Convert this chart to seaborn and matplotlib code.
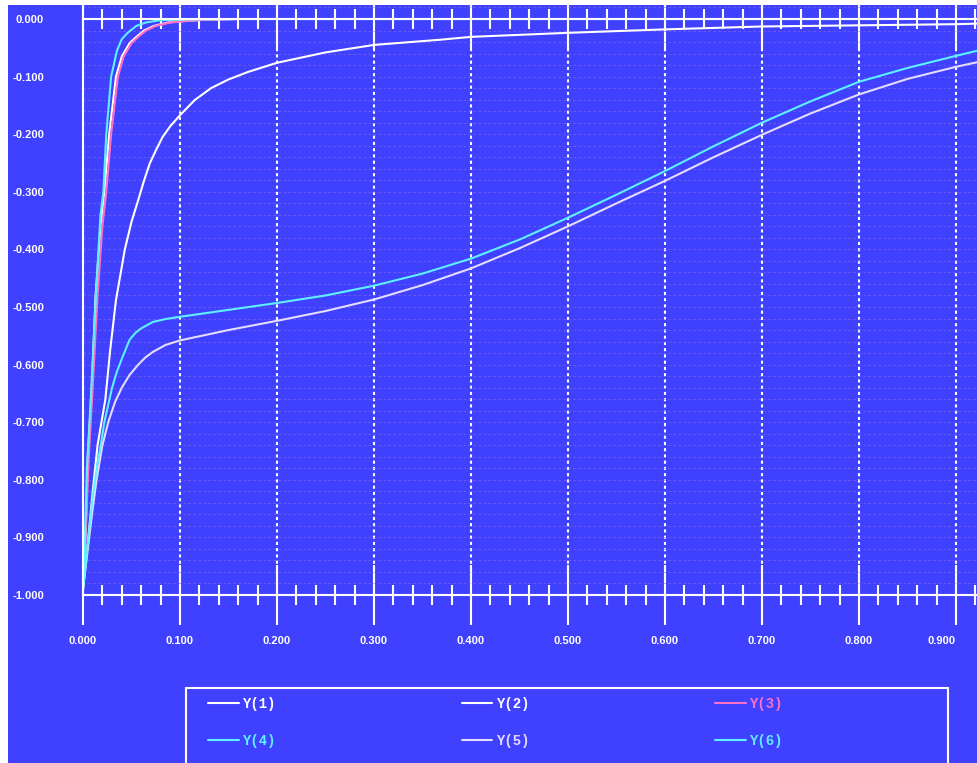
import matplotlib
matplotlib.use("Agg")
import numpy as np
import matplotlib.pyplot as plt
import seaborn as sns
from matplotlib.patches import Rectangle
from matplotlib.ticker import MultipleLocator, FormatStrFormatter
from matplotlib.font_manager import FontProperties

# series
y1_x = [0, 0.003, 0.005, 0.009, 0.013, 0.018, 0.022, 0.027, 0.034, 0.040,
        0.048, 0.055, 0.063, 0.073, 0.088, 0.108, 0.130, 0.162]
y1_y = [-0.99, -0.88, -0.76, -0.64, -0.48, -0.36, -0.30, -0.20, -0.10, -0.065,
        -0.042, -0.031, -0.020, -0.012, -0.006, -0.003, -0.001, 0.0]

y2_x = [0, 0.005, 0.010, 0.015, 0.020, 0.023, 0.028, 0.034, 0.043, 0.050,
        0.057, 0.063, 0.069, 0.076, 0.082, 0.090, 0.100, 0.115, 0.132, 0.150,
        0.170, 0.200, 0.250, 0.300, 0.368, 0.400, 0.500, 0.600, 0.700, 0.800,
        0.900, 0.922]
y2_y = [-0.99, -0.91, -0.82, -0.74, -0.69, -0.661, -0.575, -0.488, -0.401, -0.352,
        -0.314, -0.280, -0.250, -0.225, -0.205, -0.186, -0.167, -0.141, -0.120, -0.105,
        -0.092, -0.076, -0.058, -0.045, -0.036, -0.031, -0.024, -0.018, -0.013, -0.011,
        -0.009, -0.008]

y3_x = [0, 0.003, 0.006, 0.010, 0.015, 0.020, 0.024, 0.029, 0.036, 0.042,
        0.050, 0.057, 0.065, 0.075, 0.090, 0.110, 0.130, 0.162]
y3_y = [-0.99, -0.88, -0.76, -0.64, -0.48, -0.36, -0.30, -0.20, -0.10, -0.065,
        -0.042, -0.031, -0.020, -0.012, -0.006, -0.003, -0.001, 0.0]

y4_x = [0, 0.002, 0.004, 0.008, 0.013, 0.018, 0.021, 0.024, 0.029, 0.035,
        0.040, 0.046, 0.055, 0.065, 0.080, 0.100, 0.160, 0.922]
y4_y = [-0.99, -0.90, -0.78, -0.66, -0.49, -0.34, -0.30, -0.20, -0.10, -0.055,
        -0.035, -0.024, -0.012, -0.006, -0.002, -0.001, 0.0, 0.0]

y5_x = [0, 0.005, 0.010, 0.014, 0.020, 0.026, 0.033, 0.040, 0.048, 0.057,
        0.064, 0.072, 0.085, 0.100, 0.150, 0.200, 0.250, 0.300, 0.350, 0.400,
        0.450, 0.500, 0.550, 0.600, 0.650, 0.700, 0.750, 0.800, 0.850, 0.900,
        0.922]
y5_y = [-0.99, -0.92, -0.85, -0.80, -0.74, -0.70, -0.665, -0.640, -0.618, -0.600,
        -0.588, -0.578, -0.566, -0.558, -0.540, -0.524, -0.507, -0.487, -0.462, -0.433,
        -0.398, -0.360, -0.320, -0.281, -0.240, -0.201, -0.164, -0.131, -0.104, -0.083,
        -0.075]

y6_x = [0, 0.005, 0.010, 0.015, 0.0175, 0.022, 0.030, 0.035, 0.040, 0.048,
        0.054, 0.060, 0.072, 0.085, 0.100, 0.150, 0.200, 0.250, 0.300, 0.350,
        0.400, 0.450, 0.500, 0.550, 0.600, 0.650, 0.700, 0.750, 0.800, 0.850,
        0.900, 0.922]
y6_y = [-0.99, -0.91, -0.83, -0.77, -0.748, -0.70, -0.640, -0.612, -0.590, -0.557,
        -0.545, -0.537, -0.526, -0.521, -0.517, -0.505, -0.493, -0.480, -0.463, -0.442,
        -0.416, -0.383, -0.345, -0.305, -0.264, -0.221, -0.180, -0.143, -0.109, -0.085,
        -0.064, -0.055]

series_names = ["Y(1)", "Y(2)", "Y(3)", "Y(4)", "Y(5)", "Y(6)"]
series_colors = ["#ffffff", "#ffffff", "#ff70c8", "#5ff0ff", "#e4dcff", "#5ff0ff"]

x_ticks = [0.0, 0.1, 0.2, 0.3, 0.4, 0.5, 0.6, 0.7, 0.8, 0.9]
y_ticks = [-1.0, -0.9, -0.8, -0.7, -0.6, -0.5, -0.4, -0.3, -0.2, -0.1, 0.0]

BLUE = "#4040ff"
W, H = 978, 763

sns.set_style("white")
plt.rcParams["font.family"] = ["Liberation Sans", "DejaVu Sans"]
plt.rcParams["axes.unicode_minus"] = False

fig = plt.figure(figsize=(W / 100, H / 100), dpi=100)
fig.patch.set_facecolor("white")
fig.add_artist(Rectangle((8 / W, 0), 1, 1 - 5 / H, transform=fig.transFigure,
                         facecolor=BLUE, edgecolor="none", zorder=0))

ax = fig.add_axes([83 / W, (H - 595) / H, (W - 83) / W, 590 / H])
ax.set_facecolor(BLUE)

xs = [y1_x, y2_x, y3_x, y4_x, y5_x, y6_x]
ys = [y1_y, y2_y, y3_y, y4_y, y5_y, y6_y]
for x, y, name, c in zip(xs, ys, series_names, series_colors):
    sns.lineplot(x=x, y=y, ax=ax, color=c, linewidth=1.5, label=name,
                 sort=False, estimator=None)

ax.set_xlim(0, 895 / 970)
ax.set_ylim(-1.0, 14 / 576)

ax.set_xticks(x_ticks)
ax.set_yticks(y_ticks)
ax.xaxis.set_minor_locator(MultipleLocator(0.02))
ax.yaxis.set_minor_locator(MultipleLocator(0.02))
ax.xaxis.set_major_formatter(FormatStrFormatter("%.3f"))
ax.yaxis.set_major_formatter(FormatStrFormatter("%.3f"))

ax.spines["right"].set_visible(False)
ax.spines["top"].set_position(("data", 0))
for s in ["top", "bottom", "left"]:
    ax.spines[s].set_color("white")
    ax.spines[s].set_linewidth(1.5)

ax.tick_params(axis="x", which="major", direction="inout", length=43, width=1.5,
               color="white", labelcolor="white", labelsize=8, pad=8,
               top=True, bottom=True, labeltop=False)
ax.tick_params(axis="x", which="minor", direction="inout", length=14.5, width=1.5,
               color="white", top=True, bottom=True)
ax.tick_params(axis="y", which="major", direction="inout", length=44, width=1.5,
               color="white", labelcolor="white", labelsize=8, pad=6)
ax.tick_params(axis="y", which="minor", direction="inout", length=15, width=1.5,
               color="white")
for lab in ax.get_xticklabels() + ax.get_yticklabels():
    lab.set_fontweight("bold")
ax.get_xticklabels()[-1].set_horizontalalignment("right")

ax.set_axisbelow(True)
ax.grid(axis="x", which="major", color="white", linestyle=(0, (1.5, 1.5)), linewidth=1.5)
ax.grid(axis="y", which="both", color="#8a6ae6", linestyle=(0, (3, 3)),
        linewidth=0.6, alpha=0.7)
ax.set_xlabel("")
ax.set_ylabel("")

ax.get_legend().remove()
handles, labels = ax.get_legend_handles_labels()
order = [0, 3, 1, 4, 2, 5]
fig.legend([handles[i] for i in order], [labels[i] for i in order],
           loc="upper left", bbox_to_anchor=(208 / W, 1 - 697 / H), ncol=3,
           frameon=False, prop=FontProperties(family="Liberation Mono", weight="bold", size=10),
           labelcolor="linecolor", handlelength=2.2, handletextpad=0.25,
           columnspacing=13.4, labelspacing=1.68, borderpad=0, borderaxespad=0)
fig.add_artist(Rectangle((186 / W, -0.05), (948 - 186) / W, 0.05 + (H - 688) / H,
                         transform=fig.transFigure, fill=False, edgecolor="white",
                         linewidth=1.5))

fig.savefig("out.png", dpi=100, facecolor=fig.get_facecolor())
